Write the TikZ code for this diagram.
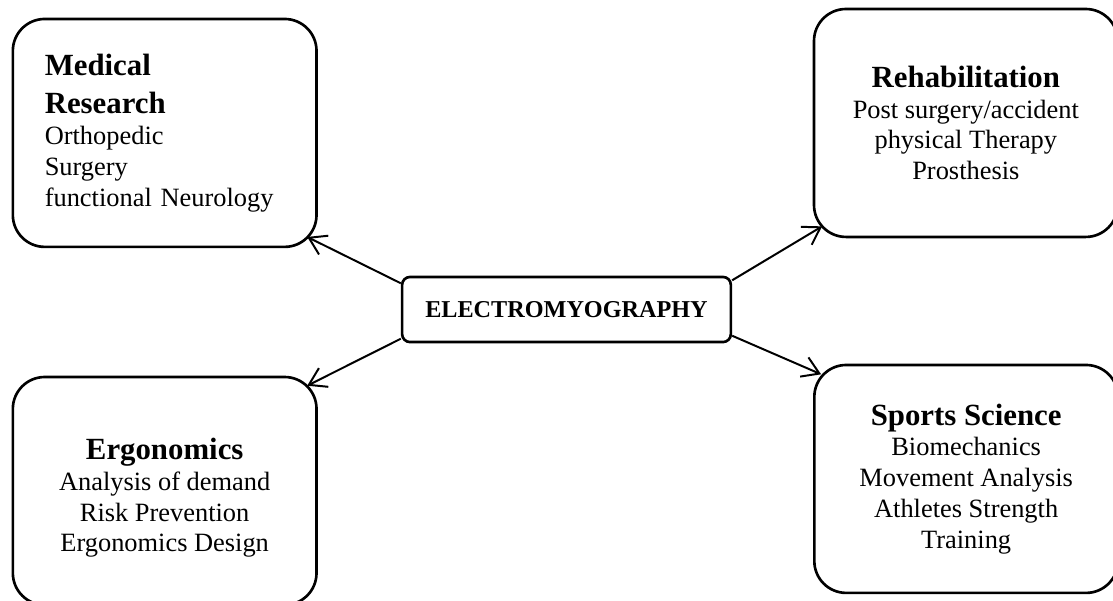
\documentclass[tikz,border=0pt]{standalone}
\usepackage{fontspec}
\setmainfont{Liberation Serif}
\usetikzlibrary{arrows.meta}
\newcommand\fieldhead[1]{{\fontsize{14}{17}\selectfont\bfseries #1}}

\begin{document}
\begin{tikzpicture}[x=1cm,y=1cm,
 every node/.style={font=\fontsize{12}{14}\selectfont},
 field/.style={draw,line width=1.2pt,rounded corners=14.5pt,inner sep=0pt,
   minimum width=4.85cm,minimum height=3.64cm,align=center},
 core/.style={draw,line width=1.2pt,rounded corners=3.6pt,inner sep=0pt,
   minimum width=5.25cm,minimum height=1.04cm,
   font=\fontsize{11}{13}\selectfont\bfseries},
 link/.style={line width=.9pt,-{Straight Barb[length=7.5pt,width=9.5pt]}}]
 \path[use as bounding box] (0,0) rectangle (17.775,9.598);
 % Central topic with the four fields of application around it.
 \node[core] (emg) at (9.047,4.655) {ELECTROMYOGRAPHY};
 \node[field,align=left,text width=3.83cm] (med) at (2.63,7.475)
      {\fieldhead{Medical}\\[3.5pt]\fieldhead{Research}\\Orthopedic\\Surgery\\functional Neurology};
 \node[field] (rehab) at (15.425,7.634)
      {\fieldhead{Rehabilitation}\\Post surgery/accident\\physical Therapy\\Prosthesis};
 \node[field] (ergo) at (2.63,1.757)
      {\fieldhead{\rule{0pt}{16pt}Ergonomics}\\Analysis of demand\\Risk Prevention\\Ergonomics Design};
 \node[field] (sport) at (15.43,1.949)
      {\fieldhead{Sports Science}\\Biomechanics\\Movement Analysis\\Athletes Strength\\Training};
 \draw[link] (emg.171) -- ([shift={(-.17,.18)}]med.south east);
 \draw[link] (emg.10) -- ([shift={(.15,.19)}]rehab.south west);
 \draw[link] (emg.190) -- ([shift={(-.17,-.16)}]ergo.north east);
 \draw[link] (emg.351) -- ([shift={(.13,-.17)}]sport.north west);
\end{tikzpicture}
\end{document}
